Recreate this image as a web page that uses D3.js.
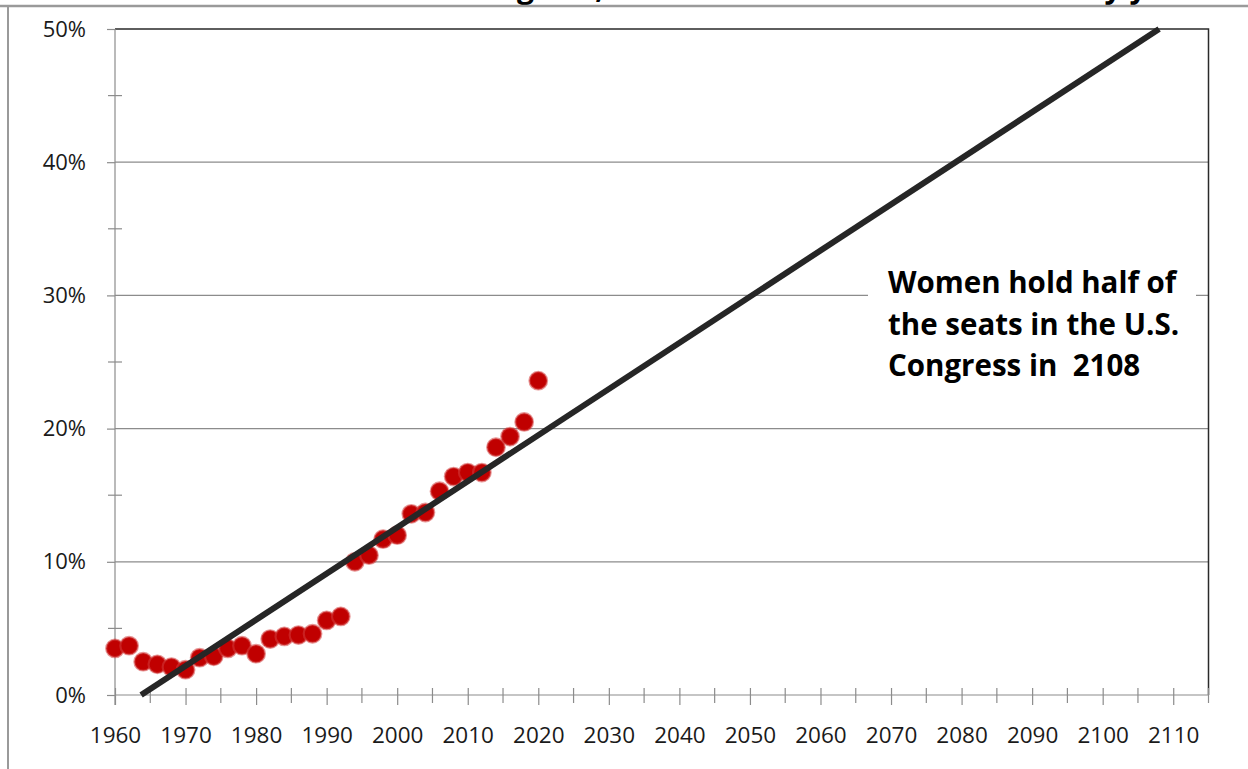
<!DOCTYPE html>
<html>
<head>
<meta charset="utf-8">
<script src="https://cdn.jsdelivr.net/npm/d3@7"></script>
<style>
  html, body { margin: 0; padding: 0; background: #fff; }
  svg { display: block; }
  text { font-family: "Open Sans", "Noto Sans", sans-serif; }
</style>
</head>
<body>
<svg id="chart" width="1248" height="769"></svg>
<script>
// ---- data ----
const years = [1960,1962,1964,1966,1968,1970,1972,1974,1976,1978,1980,1982,1984,1986,1988,1990,
               1992,1994,1996,1998,2000,2002,2004,2006,2008,2010,2012,2014,2016,2018,2020];
const womenShare = [3.5,3.7,2.5,2.3,2.1,1.9,2.8,2.9,3.5,3.7,3.1,4.2,4.4,4.5,4.6,5.6,
                    5.9,10.0,10.5,11.7,12.0,13.6,13.7,15.3,16.4,16.7,16.7,18.6,19.4,20.5,23.6];
const trendYears = [1963.7, 2108];
const trendValues = [0, 50];
const xTickLabels = [1960,1970,1980,1990,2000,2010,2020,2030,2040,2050,2060,2070,2080,2090,2100,2110];
const yTickLabels = [0,10,20,30,40,50];
const titleText = "Share of Women in Congress, with linear trend line extended by year";
const noteLines = ["Women hold half of", "the seats in the U.S.", "Congress in  2108"];

// ---- layout ----
const svg = d3.select("#chart");
const L = 115, R = 1208.5, T = 29, B = 695;
const x = d3.scaleLinear().domain([1960, 2115]).range([L, R]);
const y = d3.scaleLinear().domain([0, 50]).range([B, T]);

// cut-off title (only descenders visible, as in the reference)
svg.append("text").attr("x", 1196).attr("y", -2).attr("text-anchor", "end")
   .attr("font-size", 30).attr("font-weight", 700).attr("fill", "#000")
   .text(titleText);

// outer frame lines
svg.append("line").attr("x1", 0).attr("x2", 1248).attr("y1", 6).attr("y2", 6)
   .attr("stroke", "#9a9a9a").attr("stroke-width", 2.5);
svg.append("line").attr("x1", 8).attr("x2", 8).attr("y1", 6).attr("y2", 769)
   .attr("stroke", "#9a9a9a").attr("stroke-width", 2);

// horizontal gridlines
svg.append("g").selectAll("line").data(yTickLabels.filter(d => d > 0 && d < 50)).join("line")
   .attr("x1", L).attr("x2", R).attr("y1", d => y(d)).attr("y2", d => y(d))
   .attr("stroke", "#8c8c8c").attr("stroke-width", 1.2);

// plot border (top and right)
svg.append("path")
   .attr("d", `M${L},${y(50)}H${R}V${B}`)
   .attr("fill", "none").attr("stroke", "#2a2a2a").attr("stroke-width", 1.5);

// y axis
const yAxis = d3.axisLeft(y).tickValues(yTickLabels).tickFormat(d => d + "%").tickSize(8).tickPadding(21);
const gy = svg.append("g").attr("transform", `translate(${L},0)`).call(yAxis);
gy.select(".domain").remove();
gy.selectAll(".tick line").attr("stroke", "#8c8c8c").attr("stroke-width", 1.2);
gy.selectAll(".tick text").attr("font-size", 22).attr("fill", "#1a1a1a")
  .attr("font-family", '"Open Sans", sans-serif');
svg.append("line").attr("x1", L).attr("x2", L).attr("y1", T).attr("y2", 705)
   .attr("stroke", "#8c8c8c").attr("stroke-width", 1.2);
// minor y ticks (crossing)
svg.append("g").selectAll("line").data(d3.range(5, 50, 10)).join("line")
   .attr("x1", L - 7).attr("x2", L + 7).attr("y1", d => y(d)).attr("y2", d => y(d))
   .attr("stroke", "#8c8c8c").attr("stroke-width", 1.2);

// x axis
const xAxis = d3.axisBottom(x).tickValues(xTickLabels).tickFormat(d3.format("d")).tickSize(10).tickPadding(22);
const gx = svg.append("g").attr("transform", `translate(0,${B})`).call(xAxis);
gx.select(".domain").attr("stroke", "#8c8c8c").attr("stroke-width", 1.2).attr("d", `M${L},0H${R}`);
gx.selectAll(".tick line").attr("stroke", "#8c8c8c").attr("stroke-width", 1.2).attr("y1", -7);
gx.selectAll(".tick text").attr("font-size", 22.5).attr("fill", "#1a1a1a")
  .attr("font-family", '"Open Sans", sans-serif');
// minor x ticks every 5 years
svg.append("g").selectAll("line").data(d3.range(1965, 2116, 10)).join("line")
   .attr("x1", d => x(d)).attr("x2", d => x(d)).attr("y1", B - 7).attr("y2", B + 8)
   .attr("stroke", "#8c8c8c").attr("stroke-width", 1.2);

// note box (white background interrupts gridline)
svg.append("rect").attr("x", 868).attr("y", 257).attr("width", 328).attr("height", 132).attr("fill", "#fff");
const note = svg.append("text").attr("font-size", 29.5).attr("font-weight", 700).attr("fill", "#000")
   .style("white-space", "pre");
note.selectAll("tspan").data(noteLines).join("tspan")
   .attr("x", 888).attr("y", (d, i) => 293 + i * 41.5).text(d => d);

// data points
svg.append("g").selectAll("circle").data(years).join("circle")
   .attr("cx", d => x(d)).attr("cy", (d, i) => y(womenShare[i])).attr("r", 8.8)
   .attr("fill", "#c00000").attr("stroke", "rgba(210,60,60,0.55)").attr("stroke-width", 2.2);

// trend line
svg.append("line")
   .attr("x1", x(trendYears[0])).attr("y1", y(trendValues[0]))
   .attr("x2", x(trendYears[1])).attr("y2", y(trendValues[1]))
   .attr("stroke", "#262626").attr("stroke-width", 6);
</script>
</body>
</html>
